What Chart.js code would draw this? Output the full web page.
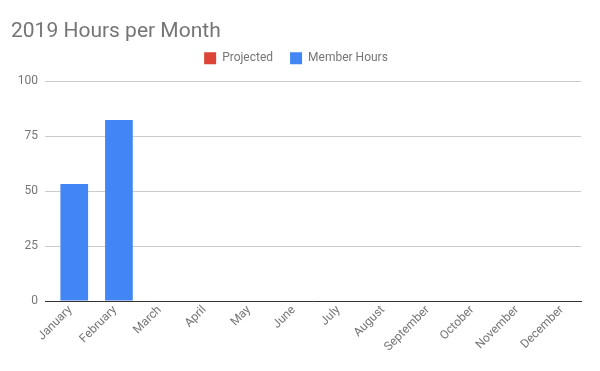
<!DOCTYPE html>
<html>
<head>
<meta charset="utf-8">
<script src="https://cdn.jsdelivr.net/npm/chart.js@4"></script>
<style>
  html, body { margin: 0; padding: 0; background: #fff; }
  #wrap { width: 600px; height: 371px; }
</style>
</head>
<body>
<div id="wrap"><canvas id="hoursChart"></canvas></div>
<script>
// Chart data
const months = ['January', 'February', 'March', 'April', 'May', 'June',
    'July', 'August', 'September', 'October', 'November', 'December'];
const projected = [0, 0, 0, 0, 0, 0, 0, 0, 0, 0, 0, 0];
const memberHours = [53.2, 82.3, 0, 0, 0, 0, 0, 0, 0, 0, 0, 0];
const yTicks = [0, 25, 50, 75, 100];

Chart.defaults.font.family = 'Roboto, Arial, sans-serif';
Chart.defaults.color = '#757575';

// extra room under the legend, like the original
const legendGap = {
    id: 'legendGap',
    beforeLayout(chart) {
        const legend = chart.legend;
        if (!legend || legend._gapPatched) return;
        const fit = legend.fit;
        legend.fit = function () {
            fit.call(this);
            this.height += 7;
        };
        legend._gapPatched = true;
    }
};

// Hours per month chart
const hoursCtx = document.getElementById('hoursChart').getContext('2d');
new Chart(hoursCtx, {
    type: 'bar',
    data: {
        labels: months,
        datasets: [{
            label: 'Projected',
            data: projected,
            backgroundColor: '#db4437',
            borderWidth: 0
        }, {
            label: 'Member Hours',
            data: memberHours,
            backgroundColor: '#4285f4',
            borderWidth: 0
        }]
    },
    options: {
        responsive: true,
        maintainAspectRatio: false,
        animation: false,
        categoryPercentage: 0.62,
        barPercentage: 2.0,
        layout: {
            padding: { left: 11, right: 19, top: 0, bottom: 0 }
        },
        plugins: {
            title: {
                display: true,
                text: '2019 Hours per Month',
                align: 'start',
                color: '#757575',
                font: { size: 21, weight: 'normal' },
                padding: { top: 19, bottom: -9 }
            },
            legend: {
                position: 'top',
                labels: {
                    boxWidth: 12,
                    boxHeight: 12,
                    padding: 17,
                    color: '#757575',
                    font: { size: 12 }
                }
            },
            tooltip: { enabled: false }
        },
        scales: {
            x: {
                grid: { display: false, drawTicks: false },
                border: { display: true, color: '#333333', width: 1 },
                ticks: {
                    minRotation: 45,
                    maxRotation: 45,
                    padding: 2,
                    labelOffset: 3,
                    color: '#757575',
                    font: { size: 12 }
                },
                afterFit: scale => { scale.height = 70; }
            },
            y: {
                min: 0,
                max: 100,
                grid: { color: '#cccccc', drawTicks: false },
                border: { display: false },
                afterBuildTicks: scale => {
                    scale.ticks = yTicks.map(v => ({ value: v }));
                },
                ticks: {
                    padding: 7,
                    color: '#757575',
                    font: { size: 12 }
                },
                afterFit: scale => { scale.width = 34; }
            }
        }
    },
    plugins: [legendGap]
});
</script>
</body>
</html>
